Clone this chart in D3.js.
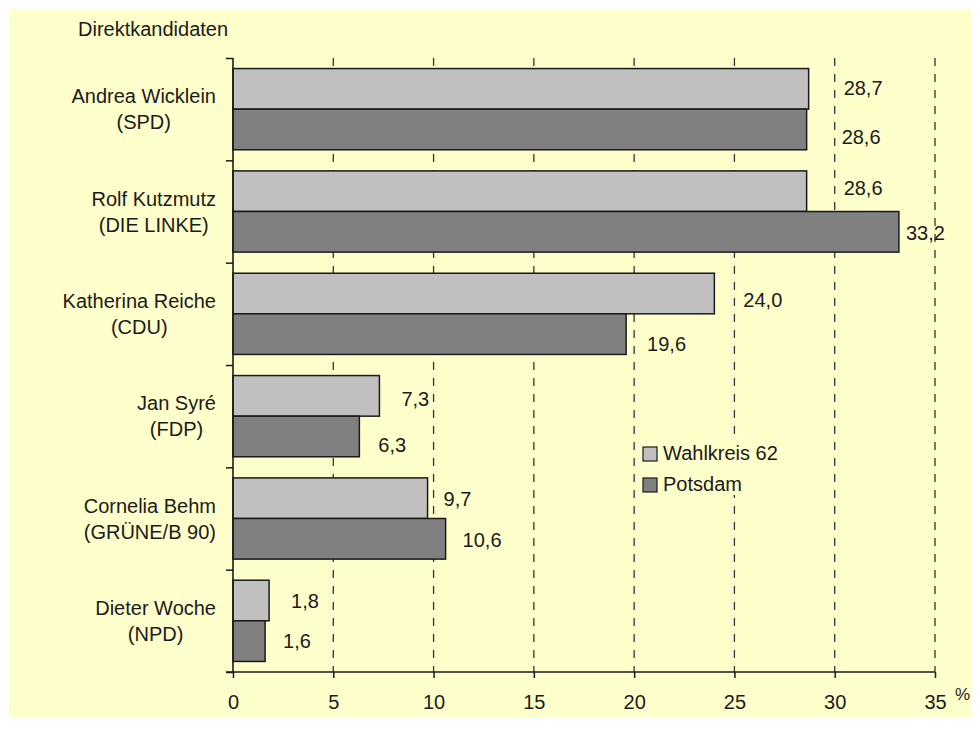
<!DOCTYPE html>
<html>
<head>
<meta charset="utf-8">
<script src="https://cdn.jsdelivr.net/npm/d3@7"></script>
<style>
	body { margin: 0; background: #fff; }
	svg text { font-family: "Liberation Sans", Arial, sans-serif; fill: #1a1a1a; }
</style>
</head>
<body>
<div id="chart"></div>
<script>
// data
var candidates = ["Andrea Wicklein", "Rolf Kutzmutz", "Katherina Reiche", "Jan Syré", "Cornelia Behm", "Dieter Woche"];
var parties = ["(SPD)", "(DIE LINKE)", "(CDU)", "(FDP)", "(GRÜNE/B 90)", "(NPD)"];
var seriesNames = ["Wahlkreis 62", "Potsdam"];
var wahlkreis = [28.7, 28.6, 24.0, 7.3, 9.7, 1.8];
var potsdam = [28.6, 33.2, 19.6, 6.3, 10.6, 1.6];
var xTicks = [0, 5, 10, 15, 20, 25, 30, 35];

// label nudges (pixels), the labels in the original were placed by hand
var labelDx = [[35, 37, 29, 22, 16, 22], [35, 7, 21, 19, 17, 18]];
var labelDy = [[-1, -3, 6, 3, 1, 0], [8, 1, 10, 9, 1, 0]];

var W = 980, H = 740;
var colors = ["#c0c0c0", "#808080"];
var fs = 20;

var svg = d3.select("#chart").append("svg").attr("width", W).attr("height", H);
svg.append("rect").attr("x", 9).attr("y", 9).attr("width", 962).attr("height", 708).attr("fill", "#ffffcc");

var xScale = d3.scaleLinear().domain([0, 35]).range([233, 935]);
var yScale = d3.scaleBand().domain(d3.range(candidates.length)).range([58, 672]);
var inner = d3.scaleBand().domain([0, 1]).range([0, yScale.bandwidth()]).paddingOuter(0.26).paddingInner(0);

// dashed grid
svg.append("g").selectAll("line").data(xTicks.slice(1)).enter().append("line")
	.attr("x1", function(d){ return xScale(d); }).attr("x2", function(d){ return xScale(d); })
	.attr("y1", 58).attr("y2", 672)
	.attr("stroke", "#333").attr("stroke-width", 1.3).attr("stroke-dasharray", "8,8");

// bars
var series = [wahlkreis, potsdam];
series.forEach(function(vals, s){
	svg.append("g").selectAll("rect").data(vals).enter().append("rect")
		.attr("x", xScale(0))
		.attr("y", function(d, i){ return yScale(i) + inner(s); })
		.attr("width", function(d){ return xScale(d) - xScale(0); })
		.attr("height", inner.bandwidth())
		.attr("fill", colors[s]).attr("stroke", "#1a1a1a").attr("stroke-width", 1.5);
	svg.append("g").selectAll("text").data(vals).enter().append("text")
		.attr("x", function(d, i){ return xScale(d) + labelDx[s][i]; })
		.attr("y", function(d, i){ return yScale(i) + inner(s) + inner.bandwidth() / 2 + 7 + labelDy[s][i]; })
		.attr("font-size", fs)
		.text(function(d){ return d3.format(".1f")(d).replace(".", ","); });
});

// x axis
var xAxis = svg.append("g").attr("transform", "translate(0,672)")
	.call(d3.axisBottom(xScale).tickValues(xTicks).tickSize(6).tickPadding(17).tickFormat(d3.format("d")));
xAxis.select(".domain").attr("stroke", "#1a1a1a").attr("stroke-width", 1.6).attr("d", "M226,0H935");
xAxis.selectAll(".tick line").attr("stroke", "#1a1a1a").attr("stroke-width", 1.5);
xAxis.selectAll(".tick text").attr("font-size", fs).attr("fill", "#1a1a1a").attr("font-family", "Liberation Sans, Arial, sans-serif");
svg.append("text").attr("x", 955).attr("y", 700).attr("font-size", 17).text("%");

// y axis
var yAxis = svg.append("g").attr("transform", "translate(233,0)")
	.call(d3.axisLeft(d3.scaleLinear().domain([0, 6]).range([58, 672])).ticks(6).tickSize(7).tickFormat(""));
yAxis.select(".domain").attr("stroke", "#1a1a1a").attr("stroke-width", 1.6).attr("d", "M0,58V672");
yAxis.selectAll(".tick line").attr("stroke", "#1a1a1a").attr("stroke-width", 1.5);

// category labels, two lines centred on each other, block right aligned
candidates.forEach(function(name, i){
	var cy = yScale(i) + yScale.bandwidth() / 2;
	var g = svg.append("g");
	var t1 = g.append("text").attr("font-size", fs).attr("text-anchor", "middle").attr("y", cy - 6).text(name);
	var t2 = g.append("text").attr("font-size", fs).attr("text-anchor", "middle").attr("y", cy + 20).text(parties[i]);
	var w = Math.max(t1.node().getComputedTextLength(), t2.node().getComputedTextLength());
	var cx = 216 - w / 2;
	t1.attr("x", cx); t2.attr("x", cx);
});

svg.append("text").attr("x", 78).attr("y", 36).attr("font-size", fs).text("Direktkandidaten");

// legend, with its own background so the grid stops behind it
var legend = svg.append("g").attr("transform", "translate(643,447)");
legend.append("rect").attr("x", -6).attr("y", -8).attr("width", 138).attr("height", 56).attr("fill", "#ffffcc");
seriesNames.forEach(function(n, i){
	legend.append("rect").attr("x", 0).attr("y", i * 31).attr("width", 14).attr("height", 14)
		.attr("fill", colors[i]).attr("stroke", "#1a1a1a").attr("stroke-width", 1.2);
	legend.append("text").attr("x", 20).attr("y", i * 31 + 13).attr("font-size", fs).text(n);
});
</script>
</body>
</html>
